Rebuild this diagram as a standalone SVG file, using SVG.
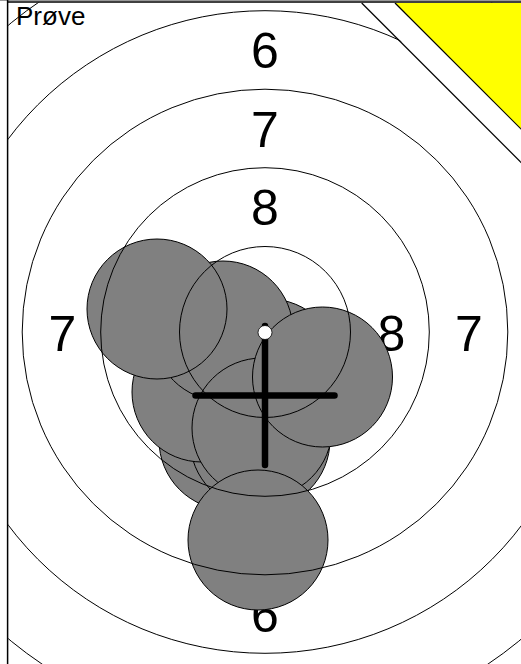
<svg xmlns="http://www.w3.org/2000/svg" width="521" height="664" viewBox="0 0 521 664">
<style>
.ring{fill:none;stroke:#000;stroke-width:1}
.num{font-family:"Liberation Sans",Arial,sans-serif;font-size:50px;text-anchor:middle;fill:#000}
.shot{fill:#808080;stroke:#000;stroke-width:1}
.cross{stroke:#000;stroke-width:6.5;stroke-linecap:round;fill:none}
</style>
<defs>
<clipPath id="frame"><rect x="8.2" y="2.5" width="513" height="662"/></clipPath>
<circle id="s" r="70"/>
</defs>
<rect width="521" height="664" fill="#fff"/>
<g clip-path="url(#frame)">
  <g id="numbers" class="num">
    <text x="265" y="68">6</text>
    <text x="265" y="146.5">7</text>
    <text x="265" y="225">8</text>
    <text x="62.5" y="350.5">7</text>
    <text x="391.5" y="350.5">8</text>
    <text x="469" y="350.5">7</text>
    <text x="265" y="632">6</text>
  </g>
  <g id="shots" class="shot">
    <use href="#s" x="229" y="440"/>
    <use href="#s" x="260" y="440"/>
    <use href="#s" x="202" y="392"/>
    <use href="#s" x="269" y="369"/>
    <use href="#s" x="223" y="331"/>
    <use href="#s" x="262" y="428"/>
    <use href="#s" x="157" y="309"/>
    <use href="#s" x="322.5" y="377"/>
    <use href="#s" x="258" y="540"/>
  </g>
  <g id="rings" class="ring">
    <circle cx="265" cy="332" r="85.5"/>
    <circle cx="265" cy="332" r="164.3"/>
    <circle cx="265" cy="332" r="242.8"/>
    <circle cx="265" cy="332" r="321.3"/>
    <circle cx="265" cy="332" r="400"/>
  </g>
  <g id="corner">
    <polygon points="361.7,2 530,2 530,170" fill="#fff" stroke="none"/>
    <line x1="361.7" y1="3" x2="528" y2="169.3" stroke="#000" stroke-width="1.2"/>
    <polygon points="395,3 530,3 530,138" fill="#ffff00" stroke="none"/>
    <line x1="395" y1="3" x2="528" y2="136" stroke="#000" stroke-width="1.2"/>
  </g>
  <g id="crosshair">
    <line class="cross" x1="265" y1="326" x2="265" y2="465"/>
    <line class="cross" x1="195.5" y1="395.5" x2="334.5" y2="395.5"/>
    <circle cx="265" cy="332.5" r="7" fill="#fff" stroke="#000" stroke-width="0.8"/>
  </g>
</g>
<g id="border" stroke="#000" fill="none">
  <line x1="0" y1="0.5" x2="521" y2="0.5" stroke="#999" stroke-width="1"/>
  <line x1="7" y1="2" x2="521" y2="2" stroke-width="1.6"/>
  <line x1="7.6" y1="0" x2="7.6" y2="664" stroke-width="1.5"/>
</g>
<text x="16" y="25" font-family="Liberation Sans, Arial, sans-serif" font-size="26" fill="#000">Prøve</text>
</svg>
